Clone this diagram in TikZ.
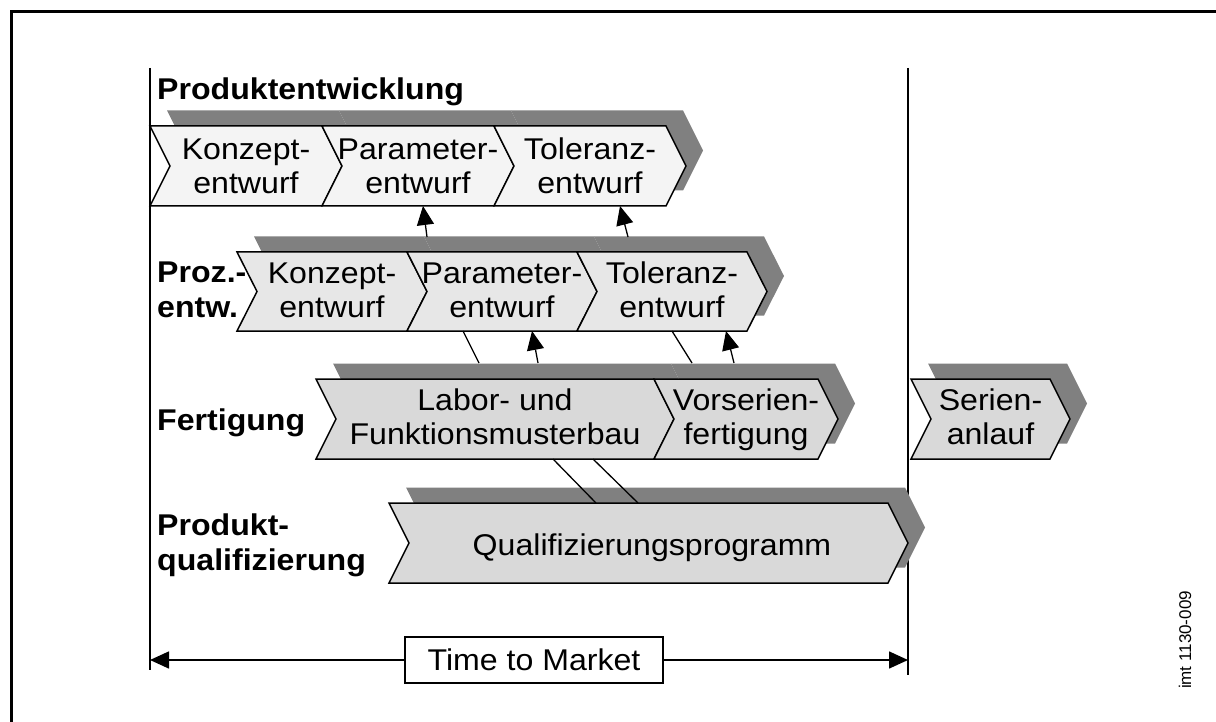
\documentclass[tikz,border=0pt]{standalone}
\usepackage{fontspec}
\setmainfont{Liberation Sans}[FakeStretch=1.07]
\newfontfamily\codefont{Liberation Sans}
\usetikzlibrary{arrows.meta}

\definecolor{shadegray}{HTML}{808080}
\definecolor{rowA}{HTML}{F4F4F4}
\definecolor{rowB}{HTML}{E7E7E7}
\definecolor{rowC}{HTML}{D9D9D9}
\definecolor{rowD}{HTML}{D9D9D9}

\newcommand{\twoline}[2]{\begin{tabular}[t]{@{}c@{}}#1\\#2\end{tabular}}
\newcommand{\twolineleft}[2]{\begin{tabular}[t]{@{}l@{}}#1\\#2\end{tabular}}

\tikzset{
  chevbody/.style={draw=black, line width=1.5pt, line join=miter},
  chevtext/.style={font=\fontsize{30}{34}\selectfont, inner sep=0pt, anchor=base},
  rowlabel/.style={font=\bfseries\fontsize{30}{35}\selectfont, inner sep=0pt, anchor=base west},
  milestone/.style={line width=1.5pt},
  link/.style={line width=1.3pt},
  uparrow/.style={line width=1.3pt, -{Triangle[length=19pt,width=17pt]}},
  span/.style={line width=1.6pt, -{Triangle[length=19pt,width=17pt]}},
  ttmbox/.style={draw, line width=1.8pt, minimum width=258pt, minimum height=46pt,
                 inner sep=0pt, font=\fontsize{30}{32}\selectfont},
}

\begin{document}
\begin{tikzpicture}[x=1pt,y=-1pt]
\useasboundingbox (0,0) rectangle (1216,722);

% outer frame (only top and left edges fall on the page)
\draw[line width=3pt] (11,722) -- (11,11.5) -- (1216,11.5);

% start and end of the time span
\draw[milestone] (150,68) coordinate (startTop) -- (150,670) coordinate (startBot);
\draw[milestone] (908,68) coordinate (endTop) -- (908,675) coordinate (endBot);

% chevron shadows
\foreach \L/\R/\T/\B in {150/322/126/206, 322/494/126/206, 494/666/126/206,
                         237/407/252/331, 407/577/252/331, 577/747/252/331,
                         316/654/379/459, 654/818/379/459, 911/1050/379/459,
                         389/888/503/583}
  \fill[shadegray, shift={(17,-15.5)}]
    (\L,\T) -- (\R,\T) -- ({\R+20},{(\T+\B)/2}) -- (\R,\B) -- (\L,\B)
    -- ({\L+20},{(\T+\B)/2}) -- cycle;

% chevron bodies
\foreach \L/\R/\T/\B/\c in {150/322/126/206/rowA, 322/494/126/206/rowA, 494/666/126/206/rowA,
                            237/407/252/331/rowB, 407/577/252/331/rowB, 577/747/252/331/rowB,
                            316/654/379/459/rowC, 654/818/379/459/rowC, 911/1050/379/459/rowC,
                            389/888/503/583/rowD}
  \filldraw[chevbody, fill=\c]
    (\L,\T) -- (\R,\T) -- ({\R+20},{(\T+\B)/2}) -- (\R,\B) -- (\L,\B)
    -- ({\L+20},{(\T+\B)/2}) -- cycle;

% row labels
\node[rowlabel] (labPE) at (157,100) {Produktentwicklung};
\node[rowlabel] (labPR) at (157,283) {\twolineleft{Proz.-}{entw.}};
\node[rowlabel] (labFE) at (157,430) {Fertigung};
\node[rowlabel] (labQU) at (157,535) {\twolineleft{Produkt-}{qualifizierung}};

% chevron texts
\node[chevtext] (pK) at (246,160)   {\twoline{Konzept-}{entwurf}};
\node[chevtext] (pP) at (418,160)   {\twoline{Parameter-}{entwurf}};
\node[chevtext] (pT) at (590,160)   {\twoline{Toleranz-}{entwurf}};
\node[chevtext] (vK) at (332,283.5) {\twoline{Konzept-}{entwurf}};
\node[chevtext] (vP) at (502,283.5) {\twoline{Parameter-}{entwurf}};
\node[chevtext] (vT) at (672,283.5) {\twoline{Toleranz-}{entwurf}};
\node[chevtext] (fL) at (495,410)   {\twoline{Labor- und}{Funktionsmusterbau}};
\node[chevtext] (fV) at (746,410)   {\twoline{Vorserien-}{fertigung}};
\node[chevtext] (fS) at (990.5,410) {\twoline{Serien-}{anlauf}};
\node[chevtext] (qP) at (652,555)   {Qualifizierungsprogramm};

% connector end points
\coordinate (a1s) at (427,237); \coordinate (a1e) at (423,206);
\coordinate (a2s) at (628,237); \coordinate (a2e) at (620,206);
\coordinate (a3s) at (538,363); \coordinate (a3e) at (532,331);
\coordinate (a4s) at (734,363); \coordinate (a4e) at (726,331);
\coordinate (l1s) at (463,331); \coordinate (l1e) at (479,363);
\coordinate (l2s) at (672,331); \coordinate (l2e) at (692,363);
\coordinate (l3s) at (553,459); \coordinate (l3e) at (596,503);
\coordinate (l4s) at (593,459); \coordinate (l4e) at (638,503);

% feedback arrows between rows
\draw[uparrow] (a1s) -- (a1e);
\draw[uparrow] (a2s) -- (a2e);
\draw[uparrow] (a3s) -- (a3e);
\draw[uparrow] (a4s) -- (a4e);

% plain links between rows
\draw[link] (l1s) -- (l1e);
\draw[link] (l2s) -- (l2e);
\draw[link] (l3s) -- (l3e);
\draw[link] (l4s) -- (l4e);

% time to market span
\node[ttmbox] (ttm) at (534,660) {Time to Market};
\coordinate (ttmL) at (150,660);
\coordinate (ttmR) at (908,660);
\draw[span] (ttm.west) -- (ttmL);
\draw[span] (ttm.east) -- (ttmR);

% drawing number
\node[rotate=90, font=\codefont\fontsize{17}{19}\selectfont, inner sep=0pt] (code) at (1185,640) {imt 1130-009};
\end{tikzpicture}
\end{document}
